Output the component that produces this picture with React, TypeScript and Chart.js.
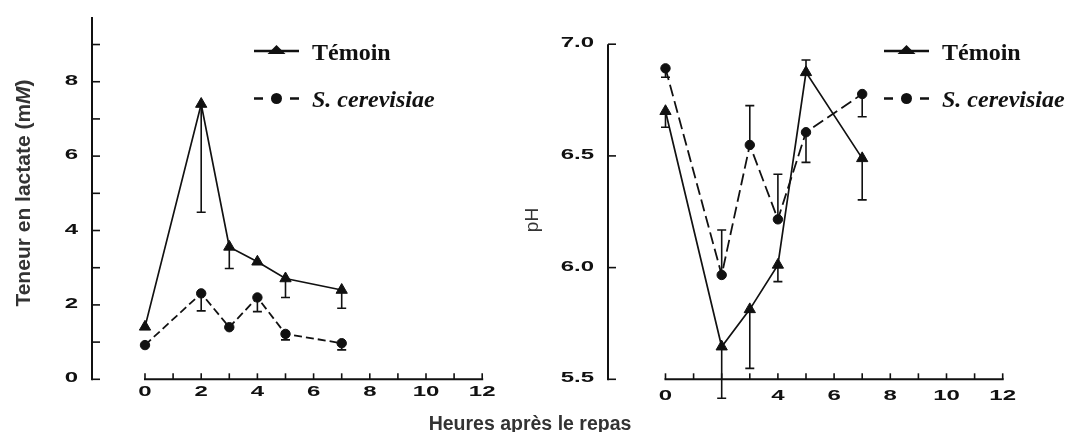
import React, { useEffect, useRef } from "react";
import { Chart, registerables } from "chart.js";

Chart.register(...registerables);

// ---------------- DATA ----------------
const HOURS = [0, 2, 3, 4, 5, 7];

const LACT_TEMOIN = [1.41, 7.4, 3.56, 3.16, 2.71, 2.4];
const LACT_TEMOIN_ERR = [null, 4.49, 2.98, null, 2.2, 1.91];
const LACT_CEREV = [0.92, 2.31, 1.4, 2.2, 1.22, 0.97];
const LACT_CEREV_ERR = [null, 1.84, null, 1.82, 1.06, 0.79];

const PH_TEMOIN = [6.7, 5.646, 5.813, 6.012, 6.874, 6.489];
const PH_TEMOIN_ERR = [6.628, 5.415, 5.549, 5.937, 6.929, 6.303];
const PH_CEREV = [6.892, 5.967, 6.549, 6.216, 6.606, 6.777];
const PH_CEREV_ERR = [6.852, 6.168, 6.725, 6.418, 6.471, 6.675];

const X_TICKS = [0, 1, 2, 3, 4, 5, 6, 7, 8, 9, 10, 11, 12];
const LACT_X_LABELS = [0, 2, 4, 6, 8, 10, 12];
const PH_X_LABELS = [0, 4, 6, 8, 10, 12]; // "2" is hidden in the source figure
const LACT_Y_TICKS = [0, 1, 2, 3, 4, 5, 6, 7, 8, 9];
const LACT_Y_LABELS = [0, 2, 4, 6, 8];
const PH_Y_TICKS = [5.5, 6.0, 6.5, 7.0];
const PH_Y_LABELS = ["5.5", "6.0", "6.5", "7.0"];

const SERIES_TEMOIN = "Témoin";
const SERIES_CEREV = "S. cerevisiae";
const Y_TITLE_LACT = ["Teneur en lactate (m", "M", ")"];
const Y_TITLE_PH = "pH";
const X_TITLE = "Heures après le repas";

// ---------------- STYLE / LAYOUT ----------------
const INK = "#111";
const TITLE_INK = "#333";
const TICK_FONT = 'bold 15px "Liberation Sans", Arial, sans-serif';
const STRETCH = 1.6;

type PanelCfg = {
  left: number;
  width: number;
  yAxisWidth: number;
  padTop: number;
  padRight: number;
  xAxisHeight: number;
  xMin: number;
  xMax: number;
  yMin: number;
  yMax: number;
  temoin: number[];
  temoinErr: (number | null)[];
  cerev: number[];
  cerevErr: (number | null)[];
  yTicks: number[];
  yLabelVals: number[];
  yLabelTexts: string[];
  xLabels: number[];
  xLabelY: number;
  dash: number[];
  legendX: number;
  drawTitle: (ctx: CanvasRenderingContext2D) => void;
};

function stretchText(
  ctx: CanvasRenderingContext2D,
  text: string,
  x: number,
  y: number,
  align: CanvasTextAlign
) {
  ctx.save();
  ctx.translate(x, y);
  ctx.scale(STRETCH, 1);
  ctx.textAlign = align;
  ctx.textBaseline = "middle";
  ctx.fillText(text, 0, 0);
  ctx.restore();
}

function drawLegend(ctx: CanvasRenderingContext2D, x0: number) {
  const yT = 51;
  const yS = 98.5;
  ctx.save();
  ctx.strokeStyle = INK;
  ctx.fillStyle = INK;
  ctx.lineWidth = 2.5;
  // Témoin: solid line + triangle
  ctx.beginPath();
  ctx.moveTo(x0, yT);
  ctx.lineTo(x0 + 45, yT);
  ctx.stroke();
  const cx = x0 + 22.5;
  ctx.beginPath();
  ctx.moveTo(cx, yT - 6);
  ctx.lineTo(cx + 9, yT + 3);
  ctx.lineTo(cx - 9, yT + 3);
  ctx.closePath();
  ctx.fill();
  // S. cerevisiae: dash, dot, dash
  ctx.beginPath();
  ctx.moveTo(x0, yS);
  ctx.lineTo(x0 + 9, yS);
  ctx.moveTo(x0 + 36, yS);
  ctx.lineTo(x0 + 45, yS);
  ctx.stroke();
  ctx.beginPath();
  ctx.arc(cx, yS, 5.5, 0, Math.PI * 2);
  ctx.fill();
  ctx.textAlign = "left";
  ctx.textBaseline = "alphabetic";
  ctx.font = 'bold 24px "Liberation Serif", "Times New Roman", serif';
  ctx.fillText(SERIES_TEMOIN, x0 + 58, yT + 8.5);
  ctx.font = 'italic bold 24px "Liberation Serif", "Times New Roman", serif';
  ctx.fillText(SERIES_CEREV, x0 + 58, yS + 8.5);
  ctx.restore();
}

function makePlugin(cfg: PanelCfg) {
  return {
    id: "figureDecor",
    beforeDatasetsDraw(chart: any) {
      const { ctx, scales, chartArea } = chart;
      const x = scales.x;
      const y = scales.y;
      const ax = chartArea.left;
      const yTop = y.getPixelForValue(cfg.yMax);
      const yBot = y.getPixelForValue(cfg.yMin);
      ctx.save();
      ctx.strokeStyle = INK;
      ctx.lineWidth = 2;
      ctx.lineCap = "butt";
      // y axis
      ctx.beginPath();
      ctx.moveTo(ax, yTop);
      ctx.lineTo(ax, yBot + 1);
      ctx.stroke();
      ctx.lineWidth = 1.6;
      for (const v of cfg.yTicks) {
        const py = y.getPixelForValue(v);
        ctx.beginPath();
        ctx.moveTo(ax, py);
        ctx.lineTo(ax + 8, py);
        ctx.stroke();
      }
      // x axis (detached)
      const x0 = x.getPixelForValue(X_TICKS[0]);
      const x1 = x.getPixelForValue(X_TICKS[X_TICKS.length - 1]);
      ctx.lineWidth = 2;
      ctx.beginPath();
      ctx.moveTo(x0 - 1, yBot);
      ctx.lineTo(x1 + 1, yBot);
      ctx.stroke();
      ctx.lineWidth = 1.6;
      for (const v of X_TICKS) {
        const px = x.getPixelForValue(v);
        ctx.beginPath();
        ctx.moveTo(px, yBot);
        ctx.lineTo(px, yBot - 6);
        ctx.stroke();
      }
      ctx.restore();
    },
    afterDatasetsDraw(chart: any) {
      const { ctx, scales } = chart;
      const x = scales.x;
      const y = scales.y;
      const sets: [number[], (number | null)[]][] = [
        [cfg.temoin, cfg.temoinErr],
        [cfg.cerev, cfg.cerevErr],
      ];
      ctx.save();
      ctx.strokeStyle = INK;
      ctx.lineWidth = 1.6;
      for (const [vals, ends] of sets) {
        HOURS.forEach((h, i) => {
          const e = ends[i];
          if (e == null) return;
          const px = x.getPixelForValue(h);
          const py = y.getPixelForValue(vals[i]);
          const pe = y.getPixelForValue(e);
          ctx.beginPath();
          ctx.moveTo(px, py);
          ctx.lineTo(px, pe);
          ctx.moveTo(px - 4.5, pe);
          ctx.lineTo(px + 4.5, pe);
          ctx.stroke();
        });
      }
      ctx.restore();
    },
    afterDraw(chart: any) {
      const { ctx, scales, chartArea } = chart;
      const x = scales.x;
      const y = scales.y;
      ctx.save();
      ctx.fillStyle = INK;
      ctx.font = TICK_FONT;
      cfg.yLabelVals.forEach((v, i) => {
        stretchText(ctx, cfg.yLabelTexts[i], chartArea.left - 14, y.getPixelForValue(v) - 1, "right");
      });
      for (const v of cfg.xLabels) {
        stretchText(ctx, String(v), x.getPixelForValue(v), cfg.xLabelY, "center");
      }
      ctx.restore();
      drawLegend(ctx, cfg.legendX);
      cfg.drawTitle(ctx);
    },
  };
}

function Panel({ cfg }: { cfg: PanelCfg }) {
  const ref = useRef<HTMLCanvasElement>(null);
  useEffect(() => {
    const canvas = ref.current!;
    const chart = new Chart(canvas, {
      type: "line",
      data: {
        datasets: [
          {
            label: SERIES_TEMOIN,
            data: HOURS.map((h, i) => ({ x: h, y: cfg.temoin[i] })),
            borderColor: INK,
            backgroundColor: INK,
            borderWidth: 1.7,
            pointStyle: "triangle",
            pointRadius: 6.5,
            pointBorderWidth: 1,
            tension: 0,
            clip: false,
          } as any,
          {
            label: SERIES_CEREV,
            data: HOURS.map((h, i) => ({ x: h, y: cfg.cerev[i] })),
            borderColor: INK,
            backgroundColor: INK,
            borderWidth: 1.8,
            borderDash: cfg.dash,
            pointStyle: "circle",
            pointRadius: 4.7,
            pointBorderWidth: 1,
            tension: 0,
            clip: false,
          } as any,
        ],
      },
      options: {
        animation: false,
        responsive: false,
        events: [],
        layout: { padding: { top: cfg.padTop, right: cfg.padRight, left: 0, bottom: 0 } },
        plugins: { legend: { display: false }, tooltip: { enabled: false }, title: { display: false } },
        scales: {
          x: {
            type: "linear",
            min: cfg.xMin,
            max: cfg.xMax,
            grid: { display: false },
            border: { display: false },
            ticks: { display: false },
            afterFit: (s: any) => {
              s.height = cfg.xAxisHeight;
            },
          },
          y: {
            type: "linear",
            min: cfg.yMin,
            max: cfg.yMax,
            grid: { display: false },
            border: { display: false },
            ticks: { display: false },
            afterFit: (s: any) => {
              s.width = cfg.yAxisWidth;
            },
          },
        },
      } as any,
      plugins: [makePlugin(cfg) as any],
    });
    return () => chart.destroy();
  }, [cfg]);
  return (
    <canvas
      ref={ref}
      width={cfg.width}
      height={432}
      style={{ position: "absolute", left: cfg.left, top: 0, width: cfg.width, height: 432 }}
    />
  );
}

const LEFT_CFG: PanelCfg = {
  left: 0,
  width: 500,
  yAxisWidth: 92,
  padTop: 17,
  padRight: 17.8,
  xAxisHeight: 52.7,
  xMin: -1.886,
  xMax: 12,
  yMin: 0,
  yMax: 9.74,
  temoin: LACT_TEMOIN,
  temoinErr: LACT_TEMOIN_ERR,
  cerev: LACT_CEREV,
  cerevErr: LACT_CEREV_ERR,
  yTicks: LACT_Y_TICKS,
  yLabelVals: LACT_Y_LABELS,
  yLabelTexts: LACT_Y_LABELS.map(String),
  xLabels: LACT_X_LABELS,
  xLabelY: 392,
  dash: [8, 4],
  legendX: 254,
  drawTitle: (ctx) => {
    ctx.save();
    ctx.translate(30, 193);
    ctx.rotate(-Math.PI / 2);
    ctx.fillStyle = TITLE_INK;
    ctx.textBaseline = "alphabetic";
    ctx.textAlign = "left";
    const fN = 'bold 21px "Liberation Sans", Arial, sans-serif';
    const fI = 'italic bold 21px "Liberation Sans", Arial, sans-serif';
    const fonts = [fN, fI, fN];
    const widths = Y_TITLE_LACT.map((t, i) => {
      ctx.font = fonts[i];
      return ctx.measureText(t).width;
    });
    let cx = -widths.reduce((a, b) => a + b, 0) / 2;
    Y_TITLE_LACT.forEach((t, i) => {
      ctx.font = fonts[i];
      ctx.fillText(t, cx, 0);
      cx += widths[i];
    });
    ctx.restore();
  },
};

const RIGHT_CFG: PanelCfg = {
  left: 500,
  width: 572,
  yAxisWidth: 108,
  padTop: 44.2,
  padRight: 69.3,
  xAxisHeight: 52.7,
  xMin: -2.046,
  xMax: 12,
  yMin: 5.5,
  yMax: 7.0,
  temoin: PH_TEMOIN,
  temoinErr: PH_TEMOIN_ERR,
  cerev: PH_CEREV,
  cerevErr: PH_CEREV_ERR,
  yTicks: PH_Y_TICKS,
  yLabelVals: PH_Y_TICKS,
  yLabelTexts: PH_Y_LABELS,
  xLabels: PH_X_LABELS,
  xLabelY: 396,
  dash: [12, 5],
  legendX: 384,
  drawTitle: (ctx) => {
    ctx.save();
    ctx.translate(38, 220);
    ctx.rotate(-Math.PI / 2);
    ctx.fillStyle = TITLE_INK;
    ctx.textAlign = "center";
    ctx.textBaseline = "alphabetic";
    ctx.font = '19px "Liberation Sans", Arial, sans-serif';
    ctx.fillText(Y_TITLE_PH, 0, 0);
    ctx.restore();
  },
};

export default function App() {
  return (
    <div
      style={{
        position: "absolute",
        left: 0,
        top: 0,
        width: 1072,
        height: 432,
        background: "#fff",
        overflow: "hidden",
      }}
    >
      <Panel cfg={LEFT_CFG} />
      <Panel cfg={RIGHT_CFG} />
      <div
        style={{
          position: "absolute",
          left: 330,
          width: 400,
          top: 413,
          textAlign: "center",
          font: 'bold 19.5px "Liberation Sans", Arial, sans-serif',
          lineHeight: "20px",
          color: TITLE_INK,
          whiteSpace: "nowrap",
        }}
      >
        {X_TITLE}
      </div>
    </div>
  );
}
